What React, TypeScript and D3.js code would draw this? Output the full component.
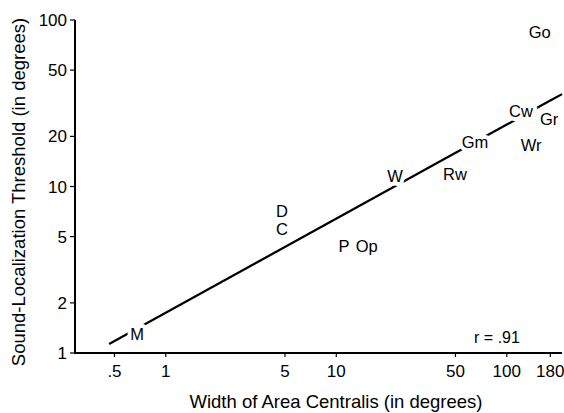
import React from "react";
import * as d3 from "d3";

const W = 564;
const H = 413;

// Data: labelled species points (width of area centralis, threshold)
const labels = ["M", "D", "C", "P", "Op", "W", "Rw", "Gm", "Wr", "Cw", "Gr", "Go"];
const widths = [0.68, 4.8, 4.8, 11.1, 15.1, 22.1, 49.7, 65.1, 139, 121, 177, 156];
const thresholds = [1.3, 7.15, 5.55, 4.39, 4.39, 11.5, 11.9, 18.6, 17.8, 28.2, 25.3, 84.1];

// Regression in log-log space: y = a * x^b
const fitA = 1.745;
const fitB = 0.565;
const fitRange = [0.465, 211];
const rText = "r = .91";

const xTicks = [0.5, 1, 5, 10, 50, 100, 180];
const xTickLabels = [".5", "1", "5", "10", "50", "100", "180"];
const yTicks = [1, 2, 5, 10, 20, 50, 100];
const yTickLabels = ["1", "2", "5", "10", "20", "50", "100"];

const xTitle = "Width of Area Centralis (in degrees)";
const yTitle = "Sound-Localization Threshold (in degrees)";

const FONT = "'Liberation Sans', Arial, Helvetica, sans-serif";

export default function App() {
  const x = d3.scaleLog().domain([0.2934, 210.8]).range([75, 562]);
  const y = d3.scaleLog().domain([1, 100]).range([353, 20]);

  const linePts: [number, number][] = d3
    .range(0, 41)
    .map((i) => {
      const lx = Math.log10(fitRange[0]) + (i / 40) * (Math.log10(fitRange[1]) - Math.log10(fitRange[0]));
      const xv = Math.pow(10, lx);
      return [xv, fitA * Math.pow(xv, fitB)];
    });
  const lineGen = d3
    .line<[number, number]>()
    .x((d) => x(d[0]))
    .y((d) => y(d[1]));

  const x0 = x.range()[0];
  const x1 = x.range()[1];
  const y0 = y.range()[0];
  const y1 = y.range()[1];

  return (
    <svg
      width={W}
      height={H}
      viewBox={`0 0 ${W} ${H}`}
      style={{ position: "absolute", left: 0, top: 0, background: "#fff", display: "block" }}
      fontFamily={FONT}
    >
      <rect x={0} y={0} width={W} height={H} fill="#fff" />
      {/* regression line */}
      <path d={lineGen(linePts) || ""} fill="none" stroke="#000" strokeWidth={2.2} />

      {/* point labels with white halo to break line */}
      {labels.map((lab, i) => (
        <text
          key={lab}
          x={x(widths[i])}
          y={y(thresholds[i])}
          dy="0.36em"
          textAnchor="middle"
          fontSize={16.5}
          fill="#000"
          stroke="#fff"
          strokeWidth={8}
          strokeLinejoin="round"
          style={{ paintOrder: "stroke" }}
        >
          {lab}
        </text>
      ))}

      {/* axes */}
      <line x1={x0} x2={x0} y1={y1} y2={y0 + 1} stroke="#000" strokeWidth={2} />
      <line x1={x0 - 1} x2={x1} y1={y0} y2={y0} stroke="#000" strokeWidth={2} />

      {yTicks.map((t, i) => (
        <g key={"y" + t}>
          <line x1={x0 - 5} x2={x0} y1={y(t)} y2={y(t)} stroke="#000" strokeWidth={1.2} />
          <text x={x0 - 8} y={y(t)} dy="0.36em" textAnchor="end" fontSize={17} fill="#000">
            {yTickLabels[i]}
          </text>
        </g>
      ))}
      {xTicks.map((t, i) => (
        <g key={"x" + t}>
          <line x1={x(t)} x2={x(t)} y1={y0} y2={y0 + 4} stroke="#000" strokeWidth={1.2} />
          <text x={x(t)} y={377} textAnchor="middle" fontSize={17} fill="#000">
            {xTickLabels[i]}
          </text>
        </g>
      ))}

      <text x={497} y={343} textAnchor="middle" fontSize={16} fill="#000">
        {rText}
      </text>

      <text x={336} y={408} textAnchor="middle" fontSize={18.5} fill="#000">
        {xTitle}
      </text>
      <text
        transform={`translate(25, 192) rotate(-90)`}
        textAnchor="middle"
        fontSize={18.5}
        fill="#000"
      >
        {yTitle}
      </text>
    </svg>
  );
}
